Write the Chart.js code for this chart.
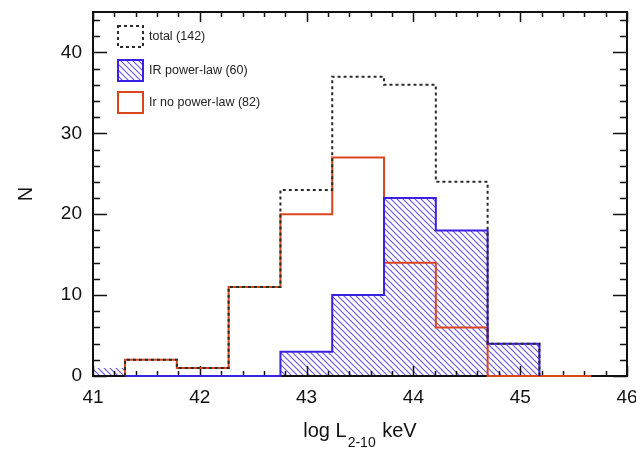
<!DOCTYPE html>
<html><head><meta charset="utf-8">
<script src="https://cdn.jsdelivr.net/npm/chart.js@4"></script>
<style>html,body{margin:0;padding:0;background:#fff}#wrap{width:636px;height:449px}</style>
</head><body><div id="wrap"><canvas id="c" width="636" height="449"></canvas></div>
<script>
// ---- data ----
const binEdges = [40.815, 41.3, 41.785, 42.27, 42.755, 43.24, 43.725, 44.21, 44.695, 45.18, 45.665];
const totalCounts = [null, 2, 1, 11, 23, 37, 36, 24, 4, null];
const irPowerLawCounts = [1, 0, 0, 0, 3, 10, 22, 18, 4, null];
const irNoPowerLawCounts = [null, 2, 1, 11, 20, 27, 14, 6, 0, 0];
const seriesLabels = ['total (142)', 'IR power-law (60)', 'Ir no power-law (82)'];
const xTickValues = [41, 42, 43, 44, 45, 46];
const yTickValues = [0, 10, 20, 30, 40];
const xRange = [41, 46];
const yRange = [0, 45];
const xTitleParts = ['log L', '2-10', ' keV'];
const yTitle = 'N';

// ---- styles ----
const FONT = "'Liberation Sans', Arial, Helvetica, sans-serif";
const BLUE = '#3a20e2', RED = '#d9461e', DARK = '#2a2a2a';
const CLIP = {left: 0, right: 0, top: 0, bottom: 2};

function histPoints(edges, counts) {
  const first = counts.findIndex(c => c !== null);
  let last = counts.length - 1; while (counts[last] === null) last--;
  const pts = [{x: edges[first], y: 0}];
  for (let i = first; i <= last; i++) pts.push({x: edges[i], y: counts[i]});
  pts.push({x: edges[last + 1], y: 0});
  return pts;
}

const canvas = document.getElementById('c');
const mainCtx = canvas.getContext('2d');
function makeHatch(color) {
  const s = 6; const c = document.createElement('canvas'); c.width = s; c.height = s;
  const g = c.getContext('2d');
  g.strokeStyle = color; g.lineWidth = 1.2;
  g.beginPath();
  g.moveTo(-1, -1); g.lineTo(s + 1, s + 1);
  g.moveTo(-1, s - 1); g.lineTo(1, s + 1);
  g.moveTo(s - 1, -1); g.lineTo(s + 1, 1);
  g.stroke();
  return mainCtx.createPattern(c, 'repeat');
}
const hatch = makeHatch('#6e5ae6');

const decor = {
  id: 'decor',
  beforeDatasetsDraw(chart) {
    const {ctx, chartArea: a, scales: {x, y}} = chart;
    ctx.save();
    ctx.strokeStyle = '#111';
    ctx.lineWidth = 1.5;
    ctx.beginPath();
    for (let v = xRange[0]; v <= xRange[1] + 1e-9; v += 0.2) {
      const major = Math.abs(v - Math.round(v)) < 1e-6;
      const px = Math.round(x.getPixelForValue(v)) + 0.5;
      const L = major ? 10 : 5;
      ctx.moveTo(px, a.bottom); ctx.lineTo(px, a.bottom - L);
      ctx.moveTo(px, a.top); ctx.lineTo(px, a.top + L);
    }
    for (let v = yRange[0]; v <= yRange[1] + 1e-9; v += 2) {
      const major = v % 10 === 0;
      const py = Math.round(y.getPixelForValue(v)) + 0.5;
      const L = major ? 14 : 7;
      ctx.moveTo(a.left, py); ctx.lineTo(a.left + L, py);
      ctx.moveTo(a.right, py); ctx.lineTo(a.right - L, py);
    }
    ctx.stroke();
    ctx.lineWidth = 2;
    ctx.strokeRect(a.left, a.top, a.right - a.left, a.bottom - a.top);
    ctx.restore();
  },
  afterDatasetsDraw(chart) {
    const {ctx, chartArea: a} = chart;
    ctx.save();
    // legend
    const bx = 118, bw = 25, bh = 21, tops = [26, 60, 92];
    ctx.font = '12.5px ' + FONT;
    ctx.textBaseline = 'middle';
    ctx.textAlign = 'left';
    ctx.save();
    ctx.strokeStyle = DARK; ctx.lineWidth = 2; ctx.setLineDash([3, 3]);
    ctx.strokeRect(bx, tops[0], bw, bh);
    ctx.restore();
    ctx.fillStyle = hatch; ctx.fillRect(bx, tops[1], bw, bh);
    ctx.strokeStyle = BLUE; ctx.lineWidth = 2; ctx.strokeRect(bx, tops[1], bw, bh);
    ctx.strokeStyle = RED; ctx.lineWidth = 2; ctx.strokeRect(bx, tops[2], bw, bh);
    ctx.fillStyle = '#222';
    seriesLabels.forEach((t, i) => ctx.fillText(t, bx + bw + 6, tops[i] + bh / 2 + 0.5));

    // x title with subscript
    const big = '20px ' + FONT, small = '14px ' + FONT;
    ctx.font = big; const w0 = ctx.measureText(xTitleParts[0]).width; const w2 = ctx.measureText(xTitleParts[2]).width;
    ctx.font = small; const w1 = ctx.measureText(xTitleParts[1]).width;
    const cx = (a.left + a.right) / 2;
    let sx = cx - (w0 + w1 + w2 + 2) / 2;
    ctx.textBaseline = 'alphabetic';
    ctx.fillStyle = '#111';
    ctx.font = big; ctx.fillText(xTitleParts[0], sx, 437); sx += w0 + 1;
    ctx.font = small; ctx.fillText(xTitleParts[1], sx, 447); sx += w1 + 1;
    ctx.font = big; ctx.fillText(xTitleParts[2], sx, 437);

    // y title
    ctx.save();
    ctx.translate(26, (a.top + a.bottom) / 2);
    ctx.rotate(-Math.PI / 2);
    ctx.textAlign = 'center'; ctx.textBaseline = 'middle';
    ctx.font = '20px ' + FONT;
    ctx.fillText(yTitle, 0, 0);
    ctx.restore();
    ctx.restore();
  }
};

new Chart(canvas, {
  type: 'line',
  data: {
    datasets: [
      {label: seriesLabels[0], data: histPoints(binEdges, totalCounts), borderColor: DARK, borderWidth: 2,
       borderDash: [3, 3], fill: false, stepped: 'before', pointRadius: 0, order: 0, clip: CLIP},
      {label: seriesLabels[1], data: histPoints(binEdges, irPowerLawCounts), borderColor: BLUE, borderWidth: 2,
       backgroundColor: hatch, fill: 'origin', stepped: 'before', pointRadius: 0, order: 1, clip: CLIP,
       segment: {borderColor: c => c.p1.parsed.x <= binEdges[1] ? 'rgba(0,0,0,0)' : BLUE}},
      {label: seriesLabels[2], data: histPoints(binEdges, irNoPowerLawCounts), borderColor: RED, borderWidth: 2,
       fill: false, stepped: 'before', pointRadius: 0, order: 2, clip: CLIP}
    ]
  },
  options: {
    responsive: false, devicePixelRatio: 1, animation: false,
    layout: {padding: {top: 12, right: 9, left: 0, bottom: 0}},
    plugins: {legend: {display: false}, tooltip: {enabled: false}, filler: {drawTime: 'beforeDatasetsDraw'}},
    scales: {
      x: {type: 'linear', min: xRange[0], max: xRange[1],
          grid: {display: false, drawTicks: false}, border: {display: false},
          ticks: {font: {size: 19, family: FONT}, color: '#111', padding: 10, maxRotation: 0},
          afterBuildTicks: s => { s.ticks = xTickValues.map(v => ({value: v})); },
          afterFit: s => { s.height = 73; s.paddingLeft = 0; s.paddingRight = 0; }},
      y: {type: 'linear', min: yRange[0], max: yRange[1],
          grid: {display: false, drawTicks: false}, border: {display: false},
          ticks: {font: {size: 19, family: FONT}, color: '#111', padding: 11},
          afterBuildTicks: s => { s.ticks = yTickValues.map(v => ({value: v})); },
          afterFit: s => { s.width = 93; s.paddingTop = 0; s.paddingBottom = 0; }}
    }
  },
  plugins: [decor]
});
</script>
</body></html>
